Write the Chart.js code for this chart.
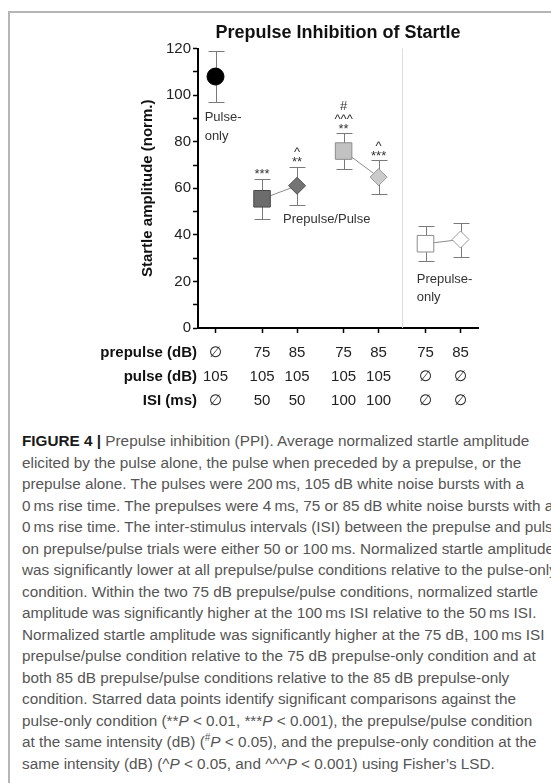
<!DOCTYPE html>
<html>
<head>
<meta charset="utf-8">
<script src="https://cdn.jsdelivr.net/npm/chart.js@4/dist/chart.umd.min.js"></script>
<style>
  html, body { margin: 0; padding: 0; background: #fff; width: 551px; height: 783px; overflow: hidden; }
  #frame { position: absolute; left: 8px; top: 11px; width: 700px; height: 900px;
           border-left: 2px solid #b5b5b5; border-top: 2px solid #b5b5b5; }
  #wrap { position: absolute; left: 0; top: 0; width: 551px; height: 420px; }
  #caption { position: absolute; left: 22px; top: 430px; font-family: "Liberation Sans", Arial, sans-serif;
             font-size: 15.3px; line-height: 21.5px; color: #555; white-space: nowrap; }
  #caption b { color: #1a1a1a; }
</style>
</head>
<body>
<div id="frame"></div>
<div id="wrap"><canvas id="c" width="551" height="420"></canvas></div>
<div id="caption">
<b>FIGURE 4 |</b> Prepulse inhibition (PPI). Average normalized startle amplitude<br>
elicited by the pulse alone, the pulse when preceded by a prepulse, or the<br>
prepulse alone. The pulses were 200&thinsp;ms, 105 dB white noise bursts with a<br>
0&thinsp;ms rise time. The prepulses were 4&thinsp;ms, 75 or 85 dB white noise bursts with a<br>
0&thinsp;ms rise time. The inter-stimulus intervals (ISI) between the prepulse and pulse<br>
on prepulse/pulse trials were either 50 or 100&thinsp;ms. Normalized startle amplitude<br>
was significantly lower at all prepulse/pulse conditions relative to the pulse-only<br>
condition. Within the two 75 dB prepulse/pulse conditions, normalized startle<br>
amplitude was significantly higher at the 100&thinsp;ms ISI relative to the 50&thinsp;ms ISI.<br>
Normalized startle amplitude was significantly higher at the 75 dB, 100&thinsp;ms ISI<br>
prepulse/pulse condition relative to the 75 dB prepulse-only condition and at<br>
both 85 dB prepulse/pulse conditions relative to the 85 dB prepulse-only<br>
condition. Starred data points identify significant comparisons against the<br>
pulse-only condition (**<i>P</i> &lt; 0.01, ***<i>P</i> &lt; 0.001), the prepulse/pulse condition<br>
at the same intensity (dB) (<sup style="font-size:10px;line-height:0">#</sup><i>P</i> &lt; 0.05), and the prepulse-only condition at the<br>
same intensity (dB) (^<i>P</i> &lt; 0.05, and ^^^<i>P</i> &lt; 0.001) using Fisher’s LSD.
</div>
<script>
// Trial conditions, in plotting order
const conditions = ['Pulse-only', 'PP 75/50', 'PP 85/50', 'PP 75/100', 'PP 85/100', 'PO 75', 'PO 85'];
const positions  = [0, 1.33, 2.33, 3.66, 4.66, 6, 7];
const prepulseDb = ['∅', '75', '85', '75', '85', '75', '85'];
const pulseDb    = ['105', '105', '105', '105', '105', '∅', '∅'];
const isiMs      = ['∅', '50', '50', '100', '100', '∅', '∅'];
const rowTitles  = ['prepulse (dB)', 'pulse (dB)', 'ISI (ms)'];

// Normalized startle amplitude (mean, SEM)
const meanAmp = [108, 55.5, 61.1, 76, 64.8, 36.2, 38];
const semAmp  = [10.9, 8.7, 8.2, 7.7, 7.3, 7.6, 7.3];

// Significance marks, bottom line last
const sigMarks = ['', '***', '^\n**', '#\n^^^\n**', '^\n***', '', ''];

// Points joined by a line
const groups = [[0], [1, 2], [3, 4], [5, 6]];

const markerStyle  = ['circle', 'rect', 'rectRot', 'rect', 'rectRot', 'rect', 'rectRot'];
const markerFill   = ['#000000', '#6c6c6c', '#747474', '#c2c2c2', '#cbcbcb', '#ffffff', '#ffffff'];
const markerEdge   = ['#000000', '#4a4a4a', '#505050', '#8c8c8c', '#9a9a9a', '#8c8c8c', '#9a9a9a'];
const markerRadius = [8.5, 11.7, 8.5, 11.7, 8.5, 11.7, 8.5];

const FONT = '"Liberation Sans", Arial, Helvetica, sans-serif';
const X_TICK_LEN = 5, X_TICK_PAD = 8, X_LINE_H = 24;

const datasets = groups.map(idx => ({
  data: idx.map(i => ({ x: positions[i], y: meanAmp[i] })),
  showLine: true,
  borderColor: '#8c8c8c',
  borderWidth: 1,
  pointStyle: idx.map(i => markerStyle[i]),
  pointRadius: idx.map(i => markerRadius[i]),
  pointBackgroundColor: idx.map(i => markerFill[i]),
  pointBorderColor: idx.map(i => markerEdge[i]),
  pointBorderWidth: 1,
  clip: false
}));

// Separator between prepulse/pulse and prepulse-only blocks, error bars
const underlay = {
  id: 'underlay',
  beforeDatasetsDraw(chart) {
    const { ctx, chartArea, scales: { x, y } } = chart;
    ctx.save();
    const sx = Math.round(x.getPixelForValue((positions[4] + positions[5]) / 2)) + 0.5;
    ctx.strokeStyle = '#dcdcdc';
    ctx.lineWidth = 1;
    ctx.beginPath();
    ctx.moveTo(sx, chartArea.top);
    ctx.lineTo(sx, chartArea.bottom);
    ctx.stroke();

    ctx.strokeStyle = '#7a7a7a';
    ctx.lineWidth = 1;
    positions.forEach((p, i) => {
      const px = Math.round(x.getPixelForValue(p)) + 0.5;
      const yt = Math.round(y.getPixelForValue(meanAmp[i] + semAmp[i])) + 0.5;
      const yb = Math.round(y.getPixelForValue(meanAmp[i] - semAmp[i])) + 0.5;
      ctx.beginPath();
      ctx.moveTo(px, yt); ctx.lineTo(px, yb);
      ctx.moveTo(px - 8, yt); ctx.lineTo(px + 8, yt);
      ctx.moveTo(px - 8, yb); ctx.lineTo(px + 8, yb);
      ctx.stroke();
    });
    ctx.restore();
  }
};

// Significance marks, group labels and the row titles of the condition table
const overlay = {
  id: 'overlay',
  afterDraw(chart) {
    const { ctx, chartArea, scales: { x, y } } = chart;
    ctx.save();
    // marks above the error bars
    ctx.fillStyle = '#333';
    ctx.font = '13px ' + FONT;
    ctx.textAlign = 'center';
    ctx.textBaseline = 'alphabetic';
    const glyphLift = { '*': 7.4, '^': 6.8, '#': 4.7 };
    positions.forEach((p, i) => {
      if (!sigMarks[i]) return;
      const lines = sigMarks[i].split('\n').reverse();
      const px = x.getPixelForValue(p);
      let cy = y.getPixelForValue(meanAmp[i] + semAmp[i]) - 8;
      lines.forEach(t => {
        if (t[0] === '#') cy -= 2;
        ctx.fillText(t, px, cy + glyphLift[t[0]]);
        cy -= 9;
      });
    });

    // block labels
    ctx.fillStyle = '#333';
    ctx.font = '13px ' + FONT;
    ctx.textAlign = 'left';
    ctx.textBaseline = 'middle';
    const blockLabels = [
      { lines: ['Pulse-', 'only'], x: -0.31, y: 90.3 },
      { lines: ['Prepulse/Pulse'], x: 1.93, y: 46.5 },
      { lines: ['Prepulse-', 'only'], x: 5.75, y: 21 }
    ];
    blockLabels.forEach(b => {
      const bx = x.getPixelForValue(b.x);
      const by = y.getPixelForValue(b.y);
      b.lines.forEach((t, k) => ctx.fillText(t, bx, by + k * 18.5));
    });

    // row titles of the condition table
    ctx.fillStyle = '#111';
    ctx.font = 'bold 15px ' + FONT;
    ctx.textAlign = 'right';
    rowTitles.forEach((t, k) => {
      ctx.fillText(t, chartArea.left - 1, x.top + X_TICK_LEN + X_TICK_PAD + X_LINE_H * (k + 0.5));
    });
    ctx.restore();
  }
};

new Chart(document.getElementById('c'), {
  type: 'line',
  data: { datasets },
  plugins: [underlay, overlay],
  options: {
    responsive: false,
    animation: false,
    layout: { padding: { top: 12, left: 139, right: 73, bottom: 0 } },
    plugins: {
      legend: { display: false },
      tooltip: { enabled: false },
      title: {
        display: true,
        text: 'Prepulse Inhibition of Startle',
        fullSize: false,
        color: '#111',
        font: { family: FONT, size: 18, weight: 'bold' },
        padding: { top: 10, bottom: 5 }
      }
    },
    scales: {
      x: {
        type: 'linear',
        min: -0.5,
        max: 7.5,
        afterBuildTicks: s => { s.ticks = positions.map(v => ({ value: v })); },
        afterFit: s => { s.height = 92; },
        ticks: {
          autoSkip: false,
          maxRotation: 0,
          padding: X_TICK_PAD,
          color: '#222',
          font: { family: FONT, size: 15, lineHeight: X_LINE_H / 15 },
          callback: (v, i) => [prepulseDb[i], pulseDb[i], isiMs[i]]
        },
        grid: { drawOnChartArea: false, drawTicks: true, tickLength: X_TICK_LEN, tickColor: '#000', tickWidth: 1.5 },
        border: { display: true, color: '#000', width: 2 }
      },
      y: {
        min: 0,
        max: 120,
        afterFit: s => { s.width = 59; },
        ticks: {
          stepSize: 10,
          padding: 2,
          color: '#222',
          font: { family: FONT, size: 15 },
          callback: v => (v % 20 === 0 ? v : '')
        },
        grid: { drawOnChartArea: false, drawTicks: true, tickLength: 5, tickColor: '#000', tickWidth: 1.5 },
        border: { display: true, color: '#000', width: 2 },
        title: {
          display: true,
          text: 'Startle amplitude (norm.)',
          color: '#111',
          font: { family: FONT, size: 15, weight: 'bold' },
          padding: { top: 0, bottom: 0 }
        }
      }
    }
  }
});
</script>
</body>
</html>
